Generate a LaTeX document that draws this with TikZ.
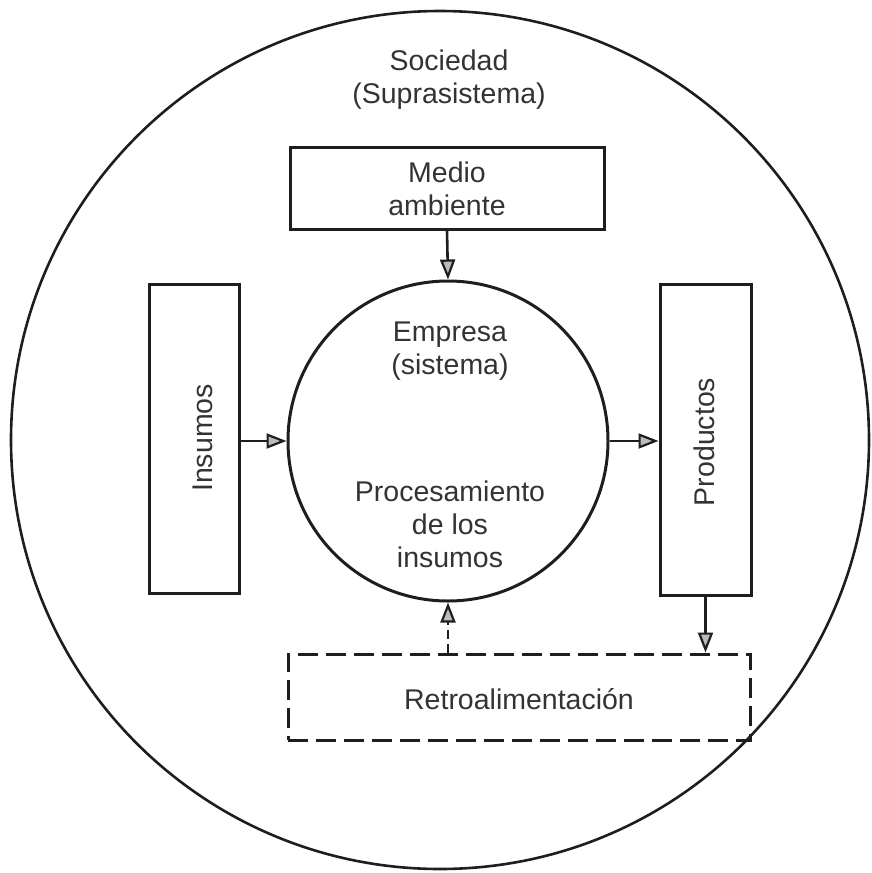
\documentclass[tikz,border=0pt]{standalone}
\usepackage{fontspec}
\setmainfont{Liberation Sans}
\usetikzlibrary{arrows.meta}
\definecolor{ink}{HTML}{1E1E1E}
\definecolor{txt}{HTML}{333333}
\begin{document}
\begin{tikzpicture}[x=1pt,y=-1pt,
  ln/.style={draw=ink,line width=3pt},
  box/.style={ln,rectangle,inner sep=0pt},
  lbl/.style={text=txt,font=\fontsize{28.5}{33}\selectfont,align=center,inner sep=0pt},
  flow/.style={draw=ink,line width=2.6pt,-{Triangle[open,fill=ink!30,length=20pt,width=15pt,line width=2.2pt]}},
  fb/.style={flow,dash pattern=on 9pt off 5pt}]
\useasboundingbox (0,0) rectangle (872,873);
% surrounding society
\node[ln,line width=2.6pt,circle,minimum size=858pt,inner sep=0pt] (soc) at (440,440) {};
\node[lbl] (soct) at (449,80) {Sociedad\\(Suprasistema)};
% environment
\node[box,minimum width=314pt,minimum height=82pt] (med) at (447,188) {};
\node[lbl] (medt) at (447,189) {Medio\\ambiente};
% the company
\node[ln,circle,minimum size=320pt,inner sep=0pt] (emp) at (448,441) {};
\node[lbl] (empt) at (450,351) {Empresa\\(sistema)};
\node[lbl] (proc) at (450,524) {Procesamiento\\de los\\insumos};
% inputs and outputs
\node[box,minimum width=90pt,minimum height=309pt] (ins) at (194,438.5) {};
\node[lbl,rotate=90] (inst) at (203,438) {Insumos};
\node[box,minimum width=91pt,minimum height=311pt] (prod) at (705.5,439.5) {};
\node[lbl,rotate=90] (prodt) at (704,442) {Productos};
% feedback
\node[box,dash pattern=on 20pt off 8pt,minimum width=462pt,minimum height=86pt] (retro) at (519,697) {};
\node[lbl] (retrot) at (519,699) {Retroalimentación};
% flows
\draw[flow] (med.south) -- (emp.north);
\draw[flow] (ins.east |- emp.west) -- (emp.west);
\draw[flow] (emp.east) -- (prod.west |- emp.east);
\draw[flow] (prod.south) -- (prod.south |- retro.north);
\draw[fb] (retro.north -| emp.south) -- (emp.south);
\end{tikzpicture}
\end{document}
